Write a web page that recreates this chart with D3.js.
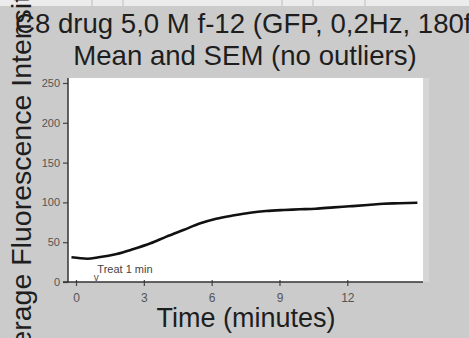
<!DOCTYPE html>
<html>
<head>
<meta charset="utf-8">
<script src="https://cdn.jsdelivr.net/npm/d3@7"></script>
<style>
  html, body { margin: 0; padding: 0; background: #cbcbcb; overflow: hidden; }
  svg { display: block; font-family: Arial, "Liberation Sans", sans-serif; }
</style>
</head>
<body>
<svg id="chart"></svg>
<script>
/* Data */
const times = [-0.2, 0.5, 1.0, 1.8, 2.5, 3.3, 4.0, 4.75, 5.5, 6.2, 7.0, 7.7, 8.4, 9.2, 9.9, 10.6, 11.4, 12.1, 12.9, 13.6, 14.3, 15.1];
const means = [31, 29.3, 31, 35.2, 41, 48.6, 57, 65.3, 73.7, 79.5, 83.8, 87, 89.2, 90.5, 91.3, 92.1, 93.8, 95.1, 96.7, 98.4, 98.9, 99.6];
const xTicks = [0, 3, 6, 9, 12];
const yTicks = [0, 50, 100, 150, 200, 250];
const treatTime = 0.9;
const treatLabel = "Treat 1 min";

const titleLine1 = "C8 drug 5,0 M f-12 (GFP, 0,2Hz, 180frames)";
const titleLine2 = "Mean and SEM (no outliers)";
const xTitle = "Time (minutes)";
const yTitle = "Average Fluorescence Intensity";

/* Sizes */
const W = 469, H = 338;
const plot = { left: 68, right: 423, top: 78, bottom: 282 };

const svg = d3.select("#chart").attr("width", W).attr("height", H);

/* background */
svg.append("rect").attr("width", W).attr("height", H).attr("fill", "#cbcbcb");
/* light spreadsheet strip at the very top */
svg.append("rect").attr("width", W).attr("height", 6).attr("fill", "#ececec");
[92, 123, 282, 313, 365].forEach(x => {
  svg.append("line").attr("x1", x).attr("x2", x).attr("y1", 0).attr("y2", 6)
    .attr("stroke", "#bdbdbd").attr("stroke-width", 1);
});

/* plot area */
svg.append("rect")
  .attr("x", plot.left).attr("y", plot.top)
  .attr("width", plot.right - plot.left).attr("height", plot.bottom - plot.top)
  .attr("fill", "#ffffff");
svg.append("rect")
  .attr("x", plot.right).attr("y", plot.top)
  .attr("width", 6).attr("height", plot.bottom - plot.top)
  .attr("fill", "#d6d6d6");

/* Scales */
const x = d3.scaleLinear().domain([0, 12]).range([76, 347.3]);
const y = d3.scaleLinear().domain([0, 250]).range([282, 83]);

/* Y axis */
const yAxis = svg.append("g")
  .attr("transform", `translate(${plot.left},0)`)
  .call(d3.axisLeft(y).tickValues(yTicks).tickSize(5).tickSizeOuter(0).tickPadding(3));
yAxis.select(".domain").remove();
yAxis.selectAll(".tick line").attr("stroke", "#444").attr("stroke-width", 1.2);
yAxis.selectAll(".tick text")
  .attr("fill", "#555").style("font-size", "11px");

/* X axis */
const xAxis = svg.append("g")
  .attr("transform", `translate(0,${plot.bottom})`)
  .call(d3.axisBottom(x).tickValues(xTicks).tickSize(4).tickSizeOuter(0).tickPadding(7));
xAxis.select(".domain").remove();
xAxis.selectAll(".tick line").attr("y1", -2).attr("stroke", "#444").attr("stroke-width", 1.2);
xAxis.selectAll(".tick text")
  .attr("fill", "#555").style("font-size", "12px");

/* axis lines */
svg.append("line")
  .attr("x1", plot.left).attr("x2", plot.left)
  .attr("y1", plot.top).attr("y2", plot.bottom)
  .attr("stroke", "#333").attr("stroke-width", 1.5);
svg.append("line")
  .attr("x1", plot.left - 5).attr("x2", plot.right)
  .attr("y1", plot.bottom).attr("y2", plot.bottom)
  .attr("stroke", "#333").attr("stroke-width", 1.5);

/* mean line */
const pts = times.map((t, i) => [t, means[i]]);
svg.append("path")
  .datum(pts)
  .attr("fill", "none")
  .attr("stroke", "#111")
  .attr("stroke-width", 2.6)
  .attr("stroke-linejoin", "round")
  .attr("d", d3.line().x(d => x(d[0])).y(d => y(d[1])).curve(d3.curveMonotoneX));

/* treatment marker */
svg.append("text")
  .attr("x", x(treatTime)).attr("y", plot.bottom - 1)
  .attr("text-anchor", "middle")
  .attr("fill", "#555").style("font-size", "10px")
  .text("v");
svg.append("text")
  .attr("x", x(treatTime) + 1).attr("y", 273)
  .attr("fill", "#444").style("font-size", "11px")
  .text(treatLabel);

/* Titles */
svg.append("text")
  .attr("x", 15).attr("y", 33)
  .attr("fill", "#1e1e1e").style("font-size", "27.6px")
  .text(titleLine1);
svg.append("text")
  .attr("x", 245).attr("y", 65)
  .attr("text-anchor", "middle")
  .attr("fill", "#1e1e1e").style("font-size", "27.6px")
  .text(titleLine2);

svg.append("text")
  .attr("x", 246).attr("y", 327)
  .attr("text-anchor", "middle")
  .attr("fill", "#1e1e1e").style("font-size", "27px")
  .text(xTitle);

svg.append("text")
  .attr("transform", "translate(31,180) rotate(-90)")
  .attr("text-anchor", "middle")
  .attr("fill", "#1e1e1e").style("font-size", "28.5px")
  .text(yTitle);
</script>
</body>
</html>
